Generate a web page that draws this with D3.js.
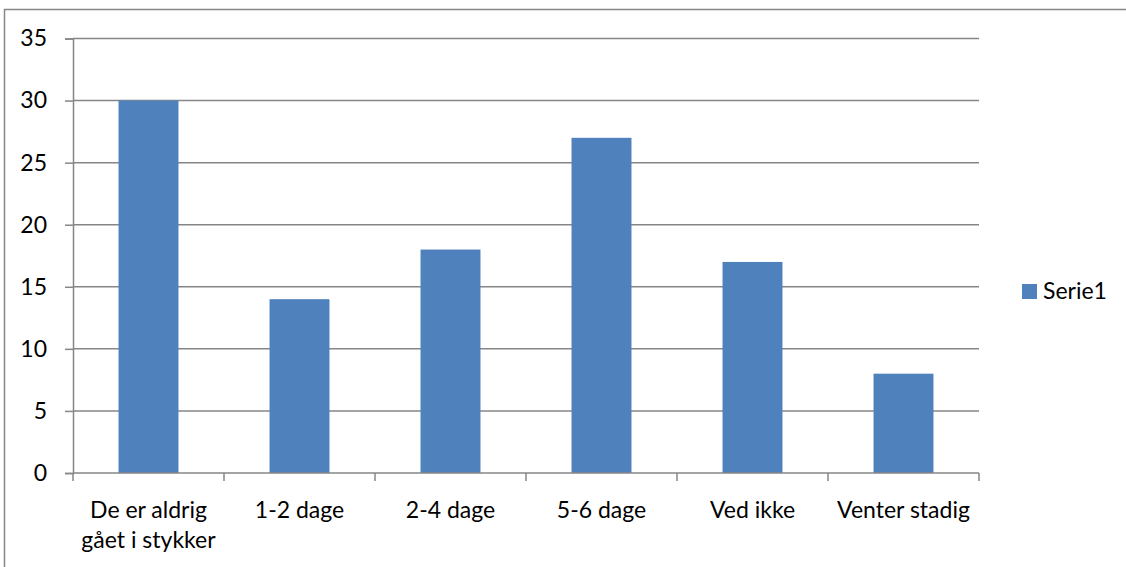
<!DOCTYPE html>
<html>
<head>
<meta charset="utf-8">
<script src="https://cdn.jsdelivr.net/npm/d3@7"></script>
<style>
  body { margin: 0; background: #fff; }
  svg text { font-family: Lato, "Open Sans", sans-serif; fill: #000; }
</style>
</head>
<body>
<div id="chart"></div>
<script>
// chart data
const categories = ['De er aldrig gået i stykker', '1-2 dage', '2-4 dage', '5-6 dage', 'Ved ikke', 'Venter stadig'];
const categoryLines = [['De er aldrig', 'gået i stykker'], ['1-2 dage'], ['2-4 dage'], ['5-6 dage'], ['Ved ikke'], ['Venter stadig']];
const serie1 = [30, 14, 18, 27, 17, 8];
const yTicks = [0, 5, 10, 15, 20, 25, 30, 35];
const seriesName = 'Serie1';

const W = 1126, H = 567;
const margin = { top: 38.5, right: 147, bottom: 94, left: 73 };
const width = W - margin.left - margin.right;
const height = H - margin.top - margin.bottom;

const svg = d3.select('#chart').append('svg')
  .attr('width', W)
  .attr('height', H);

// outer chart border
svg.append('rect')
  .attr('x', 4.5).attr('y', 9.5)
  .attr('width', W + 10).attr('height', H + 10)
  .attr('fill', 'none')
  .attr('stroke', '#868686')
  .attr('stroke-width', 1.5);

const g = svg.append('g')
  .attr('transform', `translate(${margin.left},${margin.top})`);

const x = d3.scaleBand()
  .domain(categories)
  .range([0, width])
  .paddingInner(0.603)
  .paddingOuter(0.3015);

const y = d3.scaleLinear()
  .domain([0, 35])
  .range([height, 0]);

// gridlines
g.append('g')
  .selectAll('line')
  .data(yTicks.filter(d => d > 0))
  .join('line')
  .attr('x1', 0).attr('x2', width)
  .attr('y1', d => y(d)).attr('y2', d => y(d))
  .attr('stroke', '#868686')
  .attr('stroke-width', 1.5);

// bars
g.append('g')
  .selectAll('rect')
  .data(serie1)
  .join('rect')
  .attr('x', (d, i) => x(categories[i]))
  .attr('y', d => y(d))
  .attr('width', x.bandwidth())
  .attr('height', d => height - y(d))
  .attr('fill', '#4F81BD');

// y axis
const yAxis = g.append('g')
  .call(d3.axisLeft(y).tickValues(yTicks).tickSize(8).tickPadding(18));
yAxis.select('.domain').attr('stroke', '#868686').attr('stroke-width', 1.5);
yAxis.selectAll('.tick line').attr('stroke', '#868686').attr('stroke-width', 1.5);
yAxis.selectAll('.tick text')
  .attr('font-size', '23px')
  .attr('font-family', 'Lato, "Open Sans", sans-serif');

// x axis: ticks at category boundaries
const step = x.step();
const boundaries = d3.range(categories.length + 1).map(i => i * step);
const xAxis = g.append('g').attr('transform', `translate(0,${height})`);
xAxis.append('line')
  .attr('x1', 0).attr('x2', width)
  .attr('stroke', '#868686').attr('stroke-width', 1.5);
xAxis.selectAll('line.tk')
  .data(boundaries)
  .join('line')
  .attr('class', 'tk')
  .attr('x1', d => d).attr('x2', d => d)
  .attr('y1', 0).attr('y2', 8)
  .attr('stroke', '#868686').attr('stroke-width', 1.5);

// category labels
categories.forEach((c, i) => {
  const t = xAxis.append('text')
    .attr('text-anchor', 'middle')
    .attr('x', x(c) + x.bandwidth() / 2)
    .attr('y', 45)
    .attr('font-size', '23px');
  categoryLines[i].forEach((line, j) => {
    t.append('tspan')
      .attr('x', x(c) + x.bandwidth() / 2)
      .attr('dy', j === 0 ? 0 : 30)
      .text(line);
  });
});

// legend
const legend = svg.append('g').attr('transform', 'translate(1022,284)');
legend.append('rect')
  .attr('width', 15).attr('height', 15)
  .attr('fill', '#4F81BD');
legend.append('text')
  .attr('x', 21).attr('y', 15)
  .attr('font-size', '23px')
  .text(seriesName);
</script>
</body>
</html>
